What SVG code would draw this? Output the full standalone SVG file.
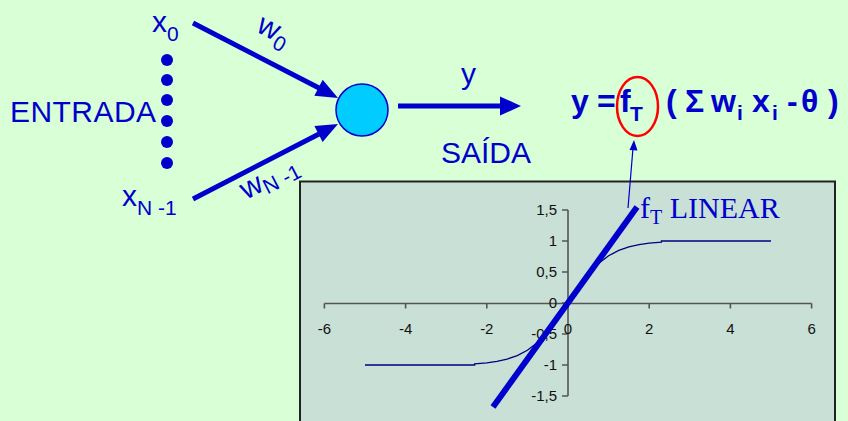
<svg xmlns="http://www.w3.org/2000/svg" width="848" height="421" viewBox="0 0 848 421">
<style>
.lbl{font-family:"Liberation Sans",Arial,sans-serif;fill:#0000CC;font-size:30px}
.frm{font-family:"Liberation Sans",Arial,sans-serif;fill:#0000CC;font-size:32px;font-weight:bold}
.tick{font-family:"Liberation Sans",Arial,sans-serif;fill:#111;font-size:15px}
.conn{stroke:#0000CC;stroke-width:5;fill:none}
.head{fill:#0000CC}
.axis{stroke:#555;stroke-width:1.6;fill:none}
</style>
<rect width="848" height="421" fill="#D9FFD7"/>

<g id="connectors">
  <line class="conn" x1="193" y1="23" x2="319" y2="88"/>
  <polygon class="head" points="338,98 314.3,95.8 322.7,79.7"/>
  <line class="conn" x1="193" y1="199" x2="319" y2="134"/>
  <polygon class="head" points="338,124 322.6,142.1 314.4,126.1"/>
  <line class="conn" x1="398" y1="106" x2="501" y2="106"/>
  <polygon class="head" points="500,96.5 521,106 500,115.5"/>
</g>

<g id="weight-w0">
  <text class="lbl" font-size="32" transform="translate(255,31) rotate(27.5)">w<tspan font-size="21" dy="7">0</tspan></text>
</g>
<g id="weight-wN-1">
  <text class="lbl" font-size="32" transform="translate(246,200) rotate(-27.3)">w<tspan font-size="21" dy="5">N -1</tspan></text>
</g>

<g id="input-x0">
  <text class="lbl" font-size="33" x="152" y="32">x<tspan font-size="21" dy="9">0</tspan></text>
</g>
<g id="input-dots" fill="#0000CC">
  <circle cx="167" cy="60" r="6"/>
  <circle cx="167" cy="80" r="6"/>
  <circle cx="167" cy="100" r="6"/>
  <circle cx="167" cy="121" r="6"/>
  <circle cx="167" cy="142" r="6"/>
  <circle cx="167" cy="163" r="6"/>
</g>
<g id="entrada">
  <text class="lbl" x="10" y="122" textLength="146">ENTRADA</text>
</g>
<g id="input-xN-1">
  <text class="lbl" font-size="33" x="122" y="206">x<tspan font-size="21" dy="9">N -1</tspan></text>
</g>

<g id="neuron">
  <circle cx="362" cy="110" r="26" fill="#00CCFF" stroke="#0000CC" stroke-width="1.5"/>
</g>

<g id="output">
  <text class="lbl" x="461" y="84">y</text>
  <text class="lbl" x="441" y="163">SAÍDA</text>
</g>

<g id="formula">
  <text class="frm" y="112"><tspan x="571">y</tspan><tspan x="597">=</tspan><tspan x="620">f</tspan><tspan x="630" font-size="21" dy="9">T</tspan><tspan x="666" dy="-9">(</tspan><tspan x="685">Σ</tspan><tspan x="711">w</tspan><tspan x="737" font-size="21" dy="8">i</tspan><tspan x="752" dy="-8">x</tspan><tspan x="772" font-size="21" dy="8">i</tspan><tspan x="787" dy="-8">-</tspan><tspan x="801">θ</tspan><tspan x="828">)</tspan></text>
  <ellipse cx="637.5" cy="106.5" rx="20.5" ry="29.5" fill="none" stroke="#FF0000" stroke-width="2.5"/>
</g>

<g id="chart">
  <rect x="300" y="181.5" width="535" height="250" fill="#C9E0D6" stroke="#222" stroke-width="2"/>
  <g class="axis">
    <line x1="324.4" y1="303.5" x2="811.6" y2="303.5"/>
    <line x1="568" y1="210" x2="568" y2="396"/>
    <path d="M324.4,303.5v5M405.6,303.5v5M486.8,303.5v5M568,303.5v5M649.2,303.5v5M730.4,303.5v5M811.6,303.5v5"/>
    <path d="M562,210h6M562,241h6M562,272h6M562,303h6M562,334h6M562,365h6M562,396h6"/>
  </g>
  <g class="tick" text-anchor="middle">
    <text x="324.4" y="334">-6</text>
    <text x="405.6" y="334">-4</text>
    <text x="486.8" y="334">-2</text>
    <text x="568" y="334">0</text>
    <text x="649.2" y="334">2</text>
    <text x="730.4" y="334">4</text>
    <text x="811.6" y="334">6</text>
  </g>
  <g class="tick" text-anchor="end">
    <text x="557" y="215">1,5</text>
    <text x="557" y="246">1</text>
    <text x="557" y="277">0,5</text>
    <text x="557" y="308">0</text>
    <text x="557" y="339">-0,5</text>
    <text x="557" y="370">-1</text>
    <text x="557" y="401">-1,5</text>
  </g>
  <polyline fill="none" stroke="#000080" stroke-width="1.3" points="365,365 474.6,365 474.6,363.8 486.8,362.8 496.95,361.4 507.1,359.1 517.25,355.6 527.4,350.2 537.55,342.4 547.7,331.65 557.85,318.2 568,303 578.15,287.8 588.3,274.35 598.45,263.6 608.6,255.8 618.75,250.4 628.9,246.9 639.05,244.6 649.2,243.2 661.4,242.2 661.4,241 771,241"/>
  <line x1="493" y1="407" x2="637" y2="207" stroke="#0000CC" stroke-width="6"/>
  <text x="640" y="218" font-family="'Liberation Serif','Times New Roman',serif" font-size="30" fill="#0000CC">f<tspan font-size="20" dy="6">T</tspan><tspan dy="-6"> LINEAR</tspan></text>
</g>

<g id="pointer">
  <line x1="628" y1="208" x2="633" y2="148" stroke="#0000CC" stroke-width="1.2"/>
  <polygon class="head" points="634,140 629.5,150 637.5,150.5"/>
</g>
</svg>
